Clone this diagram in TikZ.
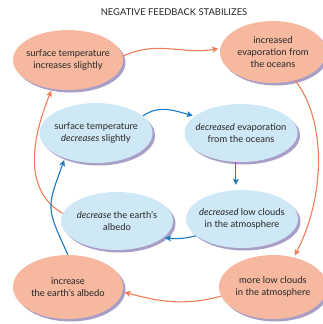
\documentclass[tikz,border=0pt]{standalone}
\usepackage{fontspec}
\setmainfont{Lato}
\usetikzlibrary{shapes.geometric,shadows,arrows.meta}

\definecolor{warmfill}{HTML}{F6B89F}
\definecolor{coolfill}{HTML}{CFE8F6}
\definecolor{shadowc}{HTML}{A99EC6}
\definecolor{warmline}{HTML}{F07C58}
\definecolor{coolline}{HTML}{1B78C2}

\tikzset{
  bubble/.style={ellipse, inner xsep=-14pt, inner ysep=0pt, align=center,
    font=\fontsize{9.4}{12.2}\selectfont, text=black!85,
    drop shadow={shadow xshift=2.5pt, shadow yshift=-2.5pt, fill=shadowc, opacity=1}},
  warm/.style={bubble, fill=warmfill, minimum width=110pt, minimum height=60pt},
  cool/.style={bubble, fill=coolfill, minimum width=113pt, minimum height=58pt},
  warmarrow/.style={draw=warmline, line width=1.1pt,
    -{Stealth[length=6pt,width=6pt,inset=1.5pt]}, shorten >=2pt},
  coolarrow/.style={draw=coolline, line width=1.1pt,
    -{Stealth[length=6pt,width=6pt,inset=1.5pt]}, shorten >=2pt},
}

\begin{document}
\begin{tikzpicture}[x=1pt,y=-1pt]
  \useasboundingbox (0,0) rectangle (322,324);

  \node[font=\fontsize{9.4}{11}\selectfont, text=black!85] (title) at (174,12) {NEGATIVE FEEDBACK STABILIZES};

  % outer loop
  \node[warm] (tlo) at (68,60) {surface temperature\\increases slightly};
  \node[warm, minimum width=106pt, minimum height=62pt] (tro) at (273,52) {increased\\evaporation from\\the oceans};
  \node[warm, minimum height=64pt] (blo) at (68,287) {increase\\the earth's albedo};
  \node[warm, minimum width=108pt, minimum height=64pt] (bro) at (273,287) {more low clouds\\in the atmosphere};

  % inner loop
  \node[cool, minimum height=60pt] (mlb) at (96,133) {surface temperature\\\textit{decreases} slightly};
  \node[cool] (mrb) at (241,133) {\textit{decreased} evaporation\\from the oceans};
  \node[cool, minimum width=112pt] (llb) at (117,221) {\textit{decrease} the earth's\\albedo};
  \node[cool, minimum width=112pt] (lrb) at (242,219) {\textit{decreased} low clouds\\in the atmosphere};

  \draw[warmarrow] (tlo.4) to[out=25,in=190] (tro.176);
  \draw[warmarrow] (tro.-52) .. controls (326,120) and (326,195) .. (bro.55);
  \draw[warmarrow] (bro.190) to[out=195,in=-15] (blo.-5);
  \draw[warmarrow] (llb.172) to[out=150,in=-112] (tlo.-119);

  \draw[coolarrow] (blo.north) to[out=115,in=-110,looseness=1.4] (mlb.-141);
  \draw[coolarrow] (mlb.20) to[out=35,in=165] (mrb.160);
  \draw[coolarrow, shorten >=5pt] (mrb.-100) -- (mrb.-100 |- lrb.north);
  \draw[coolarrow] (lrb.200) to[out=195,in=-5] (llb.-20);
\end{tikzpicture}
\end{document}
